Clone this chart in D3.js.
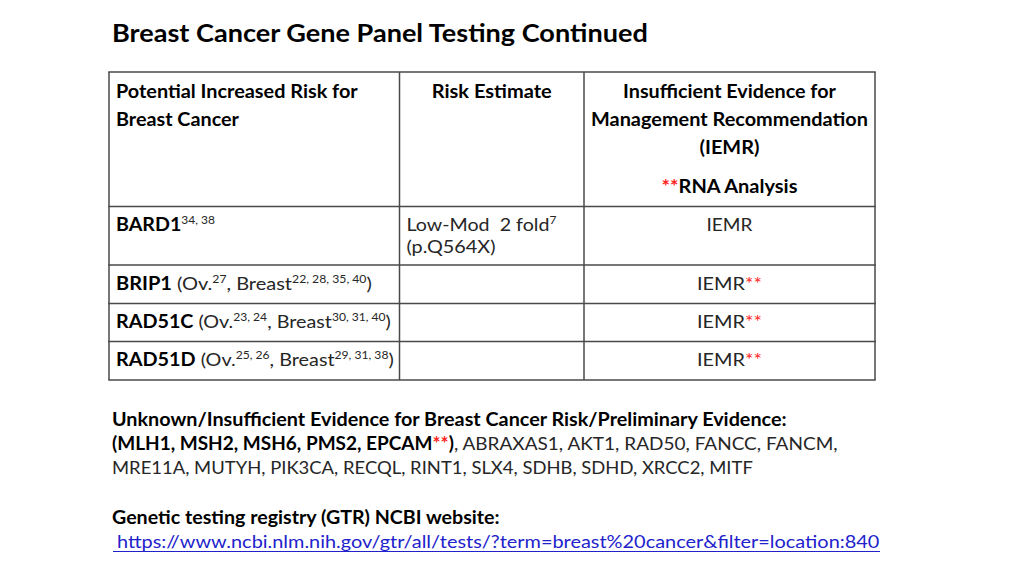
<!doctype html>
<html lang="en">
<head>
<meta charset="utf-8">
<title>Breast Cancer Gene Panel Testing Continued</title>
<style>
  html, body { margin: 0; padding: 0; background: #fff; }
  svg text { font-family: Lato, "Open Sans", sans-serif; white-space: pre; }
</style>
</head>
<body>
<div id="slide"></div>
<script src="https://d3js.org/d3.v7.min.js"></script>
<script>
  // ---- data ----
  var title = "Breast Cancer Gene Panel Testing Continued";
  var headers = [
    ["Potential Increased Risk for", "Breast Cancer"],
    ["Risk Estimate"],
    ["Insufficient Evidence for", "Management Recommendation", "(IEMR)"]
  ];
  var rnaNote = "RNA Analysis";
  var genes = ["BARD1", "BRIP1", "RAD51C", "RAD51D"];
  var geneRefs = ["34, 38", "", "", ""];
  var ovRefs = ["", "27", "23, 24", "25, 26"];
  var breastRefs = ["", "22, 28, 35, 40", "30, 31, 40", "29, 31, 38"];
  var riskEstimate = ["Low-Mod  2 fold", "", "", ""];
  var riskRef = ["7", "", "", ""];
  var riskVariant = ["(p.Q564X)", "", "", ""];
  var iemr = ["IEMR", "IEMR", "IEMR", "IEMR"];
  var rnaFlag = [false, true, true, true];

  var unknownTitle = "Unknown/Insufficient Evidence for Breast Cancer Risk/Preliminary Evidence:";
  var lynchGenes = ["MLH1", "MSH2", "MSH6", "PMS2", "EPCAM"];
  var otherGenes = ["ABRAXAS1", "AKT1", "RAD50", "FANCC", "FANCM",
                    "MRE11A", "MUTYH", "PIK3CA", "RECQL", "RINT1", "SLX4", "SDHB", "SDHD", "XRCC2", "MITF"];
  var gtrTitle = "Genetic testing registry (GTR) NCBI website:";
  var gtrUrl = "https://www.ncbi.nlm.nih.gov/gtr/all/tests/?term=breast%20cancer&filter=location:840";

  // ---- layout ----
  var W = 1024, H = 576;
  var red = "#ff2222", blue = "#2222cc", ink = "#000", soft = "#262626";
  var col = d3.scaleOrdinal().domain([0, 1, 2, 3]).range([109, 399.5, 584, 875]);
  var row = d3.scaleOrdinal().domain([0, 1, 2, 3, 4, 5]).range([72, 206.5, 265, 303.5, 341.5, 380]);
  var pad = 7;

  var svg = d3.select("#slide").append("svg")
    .attr("width", W).attr("height", H);

  // rich text line: parts {t, b, sup, red, link}; optional target width
  function rich(x, y, parts, anchor, width, size) {
    size = size || 18;
    var t = svg.append("text")
      .attr("x", x).attr("y", y)
      .attr("font-size", size)
      .attr("text-anchor", anchor || "start");
    var shift = 0;
    parts.forEach(function(p) {
      if (!p.t) return;
      var want = p.sup ? -7 : 0;
      var s = t.append("tspan").text(p.t)
        .attr("dy", want - shift)
        .attr("font-weight", p.b ? 700 : 400)
        .attr("fill", p.red ? red : p.link ? blue : p.b ? ink : soft);
      if (p.sup) s.attr("font-size", 11);
      shift = want;
    });
    if (width) {
      var w = t.node().getComputedTextLength();
      var k = width / w;
      t.attr("transform", "translate(" + x + ",0) scale(" + k + ",1) translate(" + (-x) + ",0)");
    }
    return t;
  }

  // title
  rich(112, 42, [{t: title, b: true}], "start", 536, 24);

  // table grid
  var grid = svg.append("g").attr("stroke", "#4a4a4a").attr("stroke-width", 1.5);
  [0, 1, 2, 3].forEach(function(i) {
    grid.append("line").attr("x1", col(i)).attr("x2", col(i)).attr("y1", row(0)).attr("y2", row(5));
  });
  [0, 1, 2, 3, 4, 5].forEach(function(j) {
    grid.append("line").attr("x1", col(0) - 0.75).attr("x2", col(3) + 0.75).attr("y1", row(j)).attr("y2", row(j));
  });

  // header row
  var hw = [[242, 123], [120], [213, 277, 60]];
  var hy = [98, 126, 154];
  headers[0].forEach(function(s, i) { rich(col(0) + pad, hy[i], [{t: s, b: true}], "start", hw[0][i]); });
  rich((col(1) + col(2)) / 2, hy[0], [{t: headers[1][0], b: true}], "middle", hw[1][0]);
  var c3 = (col(2) + col(3)) / 2;
  headers[2].forEach(function(s, i) { rich(c3, hy[i], [{t: s, b: true}], "middle", hw[2][i]); });
  rich(c3, 193, [{t: "**", b: true, red: true}, {t: rnaNote, b: true}], "middle", 136);

  // body rows
  var geneW = [99, 256, 275, 278];
  genes.forEach(function(g, i) {
    var y = row(i + 1) + 25;
    var parts = [{t: g, b: true}, {t: geneRefs[i], sup: true}];
    if (ovRefs[i]) {
      parts = parts.concat([{t: " (Ov."}, {t: ovRefs[i], sup: true}, {t: ", Breast"},
                            {t: breastRefs[i], sup: true}, {t: ")"}]);
    }
    rich(col(0) + pad, y, parts, "start", geneW[i]);

    if (riskEstimate[i]) {
      rich(col(1) + pad, y, [{t: riskEstimate[i]}, {t: riskRef[i], sup: true}], "start", 150);
      rich(col(1) + pad, y + 22, [{t: riskVariant[i]}], "start", 89);
    }
    var ip = [{t: iemr[i]}];
    if (rnaFlag[i]) ip.push({t: "**", red: true});
    rich(c3, y, ip, "middle", rnaFlag[i] ? 65 : 46);
  });

  // unknown / insufficient evidence block
  rich(112, 426, [{t: unknownTitle, b: true}], "start", 675);
  var line2 = [{t: "(" + lynchGenes.join(", "), b: true}, {t: "**", b: true, red: true}, {t: ")", b: true},
               {t: ", " + otherGenes.slice(0, 5).join(", ") + ","}];
  rich(112, 450, line2, "start", 726);
  rich(112, 474, [{t: otherGenes.slice(5).join(", ")}], "start", 641);

  // GTR link
  rich(112, 524, [{t: gtrTitle, b: true}], "start", 388);
  rich(117, 548, [{t: gtrUrl, link: true}], "start", 763);
  svg.append("line").attr("x1", 113).attr("x2", 880).attr("y1", 551.5).attr("y2", 551.5)
    .attr("stroke", blue).attr("stroke-width", 1.2);
</script>
</body>
</html>
